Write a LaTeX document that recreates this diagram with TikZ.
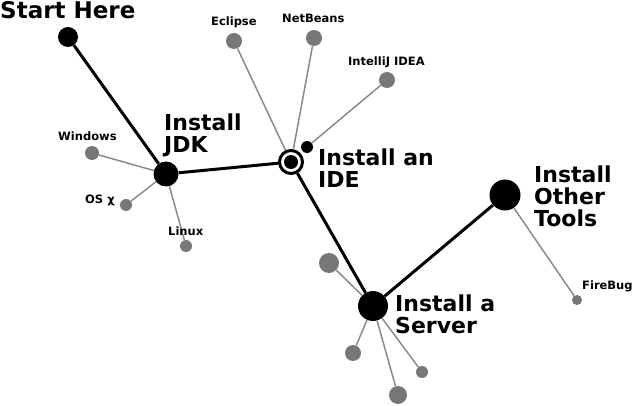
\documentclass[tikz,border=0pt]{standalone}
\usepackage{fontspec}
\setmainfont{DejaVu Sans}
\definecolor{dotgrey}{HTML}{777777}
\definecolor{linegrey}{HTML}{8A8A8A}
\begin{document}
\begin{tikzpicture}[x=1pt,y=-1pt,
  bigdot/.style={circle,fill=black,inner sep=0pt,minimum size=#1},
  greydot/.style={circle,fill=dotgrey,inner sep=0pt,minimum size=#1},
  mainline/.style={draw=black,line width=3pt},
  subline/.style={draw=linegrey,line width=1.5pt},
  biglabel/.style={font=\fontsize{22}{22}\selectfont\bfseries,align=left,inner sep=0pt,anchor=north west},
  smalllabel/.style={font=\fontsize{11.5}{12}\selectfont\bfseries,inner sep=0pt,anchor=base west}]
\useasboundingbox (0,0) rectangle (632,406);
% nodes
\node[bigdot=20pt] (start) at (68,37) {};
\node[bigdot=25pt] (jdk) at (166,174) {};
\node[circle,draw=black,line width=3pt,fill=white,inner sep=0pt,minimum size=23pt] (ide) at (291,162) {};
\node[bigdot=14pt] (idecore) at (291,162) {};
\node[bigdot=12pt] (idesmall) at (307,147) {};
\node[bigdot=30pt] (server) at (373,306) {};
\node[bigdot=31pt] (other) at (505,195) {};
\node[greydot=14pt] (win) at (92,153) {};
\node[greydot=12pt] (osx) at (126,205) {};
\node[greydot=12pt] (linux) at (186,246) {};
\node[greydot=16pt] (eclipse) at (234,41) {};
\node[greydot=16pt] (netbeans) at (314,38) {};
\node[greydot=16pt] (intellij) at (387,80) {};
\node[greydot=20pt] (s1) at (329,263) {};
\node[greydot=16pt] (s2) at (353,353) {};
\node[greydot=12pt] (s3) at (422,372) {};
\node[greydot=18pt] (s4) at (398,395) {};
\node[greydot=10pt] (firebug) at (577,300) {};
% connectors
\draw[subline] (win) -- (jdk);
\draw[subline] (osx) -- (jdk);
\draw[subline] (linux) -- (jdk);
\draw[subline] (eclipse) -- (ide);
\draw[subline] (netbeans) -- (ide);
\draw[subline] (intellij) -- (idesmall);
\draw[subline] (s1) -- (server);
\draw[subline] (s2) -- (server);
\draw[subline] (s3) -- (server);
\draw[subline] (s4) -- (server);
\draw[subline] (firebug) -- (other);
\draw[mainline] (start) -- (jdk);
\draw[mainline] (jdk) -- (ide);
\draw[mainline] (ide) -- (server);
\draw[mainline] (server) -- (other);
% labels
\node[font=\fontsize{23}{23}\selectfont\bfseries,inner sep=0pt,anchor=base west] (tstart) at (0,19) {Start Here};
\node[biglabel] (tjdk) at (164,114) {Install\\JDK};
\node[biglabel] (tide) at (318,149) {Install an\\IDE};
\node[biglabel] (tserver) at (395,295) {Install a\\Server};
\node[biglabel] (tother) at (534,166) {Install\\Other\\Tools};
\node[smalllabel] (twin) at (58,141) {Windows};
\node[smalllabel] (tosx) at (85,204) {OS χ};
\node[smalllabel] (tlinux) at (168,236) {Linux};
\node[smalllabel] (teclipse) at (211,26) {Eclipse};
\node[smalllabel] (tnetbeans) at (282,23) {NetBeans};
\node[smalllabel] (tintellij) at (348,66) {IntelliJ IDEA};
\node[smalllabel] (tfirebug) at (582,290) {FireBug};
\end{tikzpicture}
\end{document}
